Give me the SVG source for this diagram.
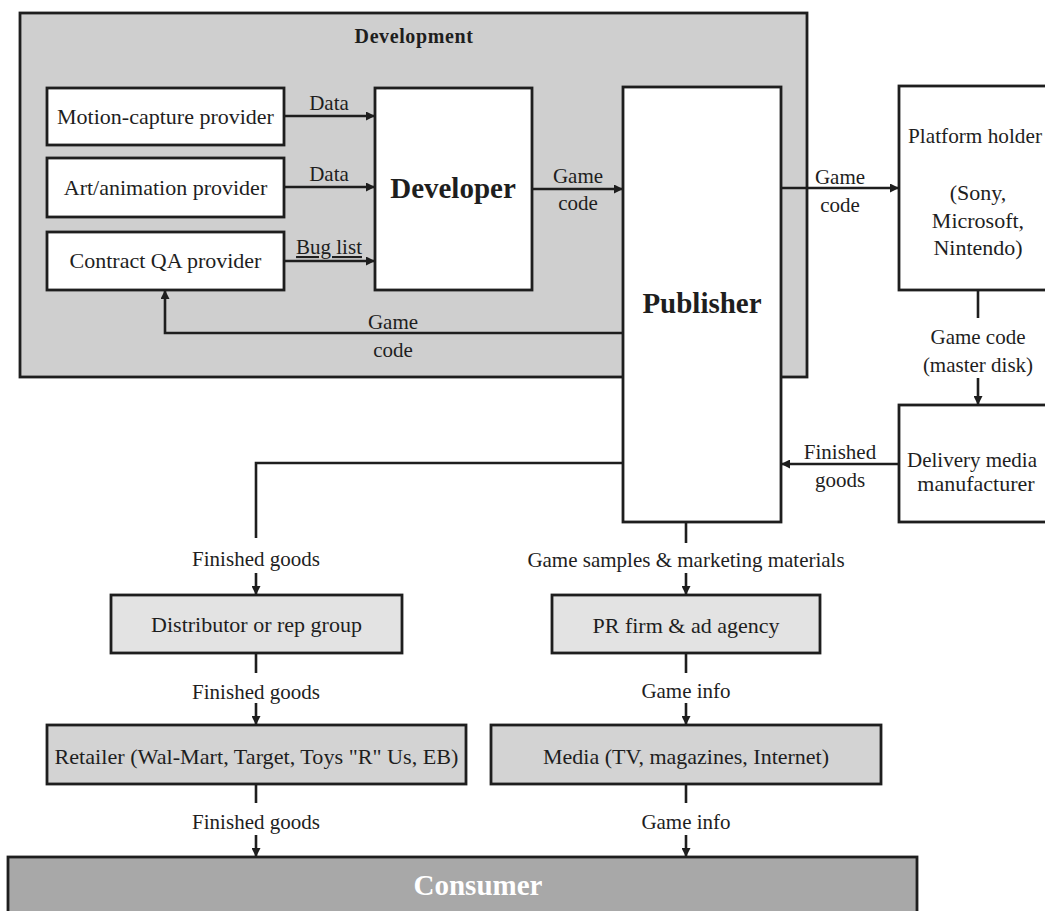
<svg xmlns="http://www.w3.org/2000/svg" width="1045" height="911" viewBox="0 0 1045 911">
  <defs>
    <marker id="arrow" viewBox="0 0 10 10" refX="10" refY="5" markerWidth="10" markerHeight="9" markerUnits="userSpaceOnUse" orient="auto">
      <path d="M0,0 L10,5 L0,10 z" fill="#1e1e1e"/>
    </marker>
    <style>
      .box { stroke: #1e1e1e; stroke-width: 2.8; }
      .white { fill: #ffffff; }
      .dev { fill: #cfcfcf; }
      .light { fill: #e3e3e3; }
      .mid { fill: #d3d3d3; }
      .dark { fill: #a8a8a8; }
      .conn { fill: none; stroke: #1e1e1e; stroke-width: 2.6; }
      .arr { fill: none; stroke: #1e1e1e; stroke-width: 2.6; marker-end: url(#arrow); }
      text { font-family: "Liberation Serif", "Times New Roman", serif; fill: #1e1e1e; }
      .t { font-size: 22px; text-anchor: middle; }
      .lbl { font-size: 21px; text-anchor: middle; }
      .big { font-size: 29px; font-weight: bold; text-anchor: middle; }
    </style>
  </defs>

  <rect width="1045" height="911" fill="#ffffff"/>

  <!-- Development group container -->
  <g id="development">
    <rect class="box dev" x="20" y="13" width="787" height="364"/>
    <text x="414" y="43" font-size="20" font-weight="bold" text-anchor="middle" letter-spacing="0.6">Development</text>
  </g>

  <g id="motion-capture">
    <rect class="box white" x="47" y="88" width="237" height="57"/>
    <text class="t" x="165.5" y="124">Motion-capture provider</text>
  </g>
  <g id="art-animation">
    <rect class="box white" x="47" y="158" width="237" height="59"/>
    <text class="t" x="165.5" y="195">Art/animation provider</text>
  </g>
  <g id="contract-qa">
    <rect class="box white" x="47" y="232" width="237" height="58"/>
    <text class="t" x="165.5" y="268">Contract QA provider</text>
  </g>
  <g id="developer">
    <rect class="box white" x="375" y="88" width="157" height="202"/>
    <text class="big" x="453" y="198">Developer</text>
  </g>
  <g id="publisher">
    <rect class="box white" x="623" y="87" width="158" height="435"/>
    <text class="big" x="702" y="313">Publisher</text>
  </g>
  <g id="platform-holder">
    <rect class="box white" x="899" y="86" width="160" height="204"/>
    <text class="t" x="975" y="143" textLength="134" lengthAdjust="spacingAndGlyphs">Platform holder</text>
    <text class="t" x="978" y="200">(Sony,</text>
    <text class="t" x="978" y="228">Microsoft,</text>
    <text class="t" x="978" y="255">Nintendo)</text>
  </g>
  <g id="delivery-media">
    <rect class="box white" x="899" y="405" width="160" height="117"/>
    <text x="972" y="467" font-size="21" text-anchor="middle">Delivery media</text>
    <text class="t" x="976" y="491">manufacturer</text>
  </g>
  <g id="distributor">
    <rect class="box light" x="111" y="595" width="291" height="58"/>
    <text class="t" x="256.5" y="632">Distributor or rep group</text>
  </g>
  <g id="pr-firm">
    <rect class="box light" x="552" y="595" width="268" height="58"/>
    <text class="t" x="686" y="633">PR firm &amp; ad agency</text>
  </g>
  <g id="retailer">
    <rect class="box mid" x="47" y="725" width="419" height="59"/>
    <text class="t" x="256.5" y="764" textLength="404" lengthAdjust="spacingAndGlyphs">Retailer (Wal-Mart, Target, Toys "R" Us, EB)</text>
  </g>
  <g id="media">
    <rect class="box mid" x="491" y="725" width="390" height="59"/>
    <text class="t" x="686" y="764">Media (TV, magazines, Internet)</text>
  </g>
  <g id="consumer">
    <rect class="box dark" x="8" y="857" width="909" height="70"/>
    <text x="478" y="895" font-size="29" font-weight="bold" text-anchor="middle" style="fill:#ffffff">Consumer</text>
  </g>

  <!-- Connectors -->
  <g id="connectors">
    <line class="arr" x1="284" y1="116" x2="375" y2="116"/>
    <line class="arr" x1="284" y1="187" x2="375" y2="187"/>
    <line class="arr" x1="284" y1="261" x2="375" y2="261"/>
    <line class="arr" x1="532" y1="189" x2="623" y2="189"/>
    <polyline class="arr" points="623,333 165,333 165,290"/>
    <line class="arr" x1="781" y1="188" x2="899" y2="188"/>
    <line class="conn" x1="978" y1="290" x2="978" y2="318"/>
    <line class="arr" x1="978" y1="378" x2="978" y2="405"/>
    <line class="arr" x1="899" y1="464" x2="781" y2="464"/>
    <polyline class="conn" points="623,463 256,463 256,538"/>
    <line class="arr" x1="256" y1="573" x2="256" y2="595"/>
    <line class="conn" x1="256" y1="653" x2="256" y2="673"/>
    <line class="arr" x1="256" y1="703" x2="256" y2="725"/>
    <line class="conn" x1="256" y1="784" x2="256" y2="803"/>
    <line class="arr" x1="256" y1="835" x2="256" y2="857"/>
    <line class="conn" x1="686" y1="522" x2="686" y2="543"/>
    <line class="arr" x1="686" y1="573" x2="686" y2="595"/>
    <line class="conn" x1="686" y1="653" x2="686" y2="673"/>
    <line class="arr" x1="686" y1="703" x2="686" y2="725"/>
    <line class="conn" x1="686" y1="784" x2="686" y2="803"/>
    <line class="arr" x1="686" y1="835" x2="686" y2="857"/>

    <!-- connector labels -->
    <text class="lbl" x="329" y="110">Data</text>
    <text class="lbl" x="329" y="181">Data</text>
    <text class="lbl" x="329" y="254" text-decoration="underline">Bug list</text>
    <text class="lbl" x="578" y="183">Game</text>
    <text class="lbl" x="578" y="210">code</text>
    <text class="lbl" x="393" y="329">Game</text>
    <text class="lbl" x="393" y="357">code</text>
    <text class="lbl" x="840" y="184">Game</text>
    <text class="lbl" x="840" y="212">code</text>
    <text class="lbl" x="978" y="344">Game code</text>
    <text class="lbl" x="978" y="372">(master disk)</text>
    <text class="lbl" x="840" y="459">Finished</text>
    <text class="lbl" x="840" y="487">goods</text>
    <text class="lbl" x="256" y="566">Finished goods</text>
    <text class="lbl" x="256" y="699">Finished goods</text>
    <text class="lbl" x="256" y="829">Finished goods</text>
    <text class="lbl" x="686" y="567">Game samples &amp; marketing materials</text>
    <text class="lbl" x="686" y="698">Game info</text>
    <text class="lbl" x="686" y="829">Game info</text>
  </g>
</svg>
